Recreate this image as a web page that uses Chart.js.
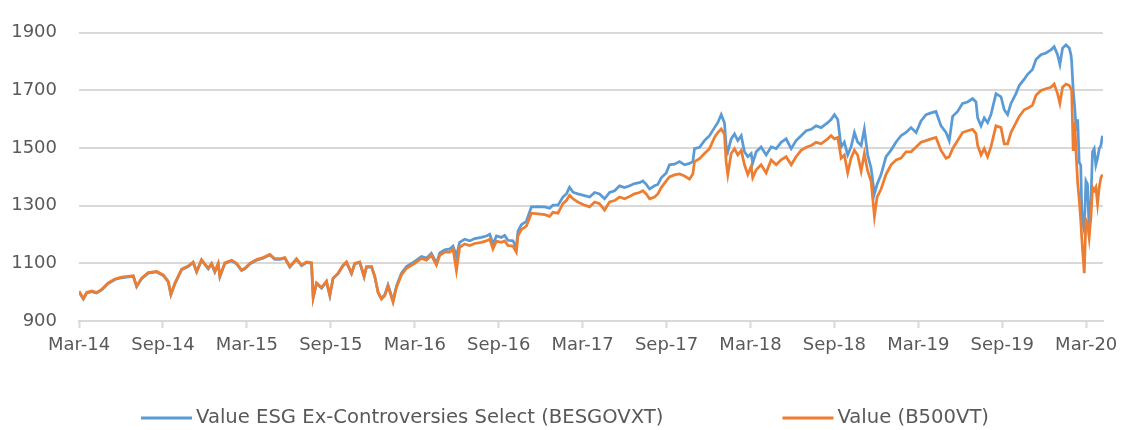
<!DOCTYPE html>
<html>
<head>
<meta charset="utf-8">
<script src="https://cdn.jsdelivr.net/npm/chart.js@4.4.1/dist/chart.umd.min.js"></script>
<style>
  body { margin: 0; background: #fff; }
  #wrap { width: 1126px; height: 430px; }
</style>
</head>
<body>
<div id="wrap"><canvas id="chart" width="1126" height="430"></canvas></div>
<script>
// x = months since Mar-14
const tickLabels = ['Mar-14', 'Sep-14', 'Mar-15', 'Sep-15', 'Mar-16', 'Sep-16', 'Mar-17',
                    'Sep-17', 'Mar-18', 'Sep-18', 'Mar-19', 'Sep-19', 'Mar-20'];

const months = [
  0.00, 0.31, 0.55, 0.91, 1.26, 1.62, 2.09, 2.57, 3.05, 3.52,
  3.88, 4.12, 4.48, 4.95, 5.55, 6.02, 6.38, 6.57, 6.86, 7.34,
  7.81, 8.16, 8.41, 8.76, 9.24, 9.48, 9.71, 9.95, 10.07, 10.43,
  10.91, 11.26, 11.62, 11.86, 12.21, 12.69, 13.16, 13.64, 14.00, 14.36,
  14.71, 15.07, 15.55, 15.91, 16.26, 16.62, 16.74, 16.98, 17.34, 17.69,
  17.93, 18.16, 18.52, 18.88, 19.12, 19.48, 19.71, 20.07, 20.38, 20.55,
  20.91, 21.14, 21.38, 21.62, 21.86, 22.09, 22.45, 22.69, 23.05, 23.41,
  24.00, 24.48, 24.84, 25.19, 25.55, 25.79, 26.14, 26.50, 26.74, 26.98,
  27.21, 27.57, 27.93, 28.29, 28.76, 29.12, 29.36, 29.59, 29.84, 30.19,
  30.43, 30.66, 31.02, 31.26, 31.38, 31.62, 31.98, 32.34, 32.81, 33.29,
  33.64, 33.88, 34.24, 34.59, 34.84, 35.07, 35.31, 35.66, 36.14, 36.50,
  36.86, 37.21, 37.57, 37.93, 38.29, 38.64, 39.00, 39.36, 39.71, 40.07,
  40.31, 40.55, 40.79, 41.14, 41.38, 41.62, 41.98, 42.21, 42.57, 42.93,
  43.29, 43.64, 43.88, 44.00, 44.36, 44.71, 45.07, 45.43, 45.66, 45.91,
  46.14, 46.26, 46.38, 46.62, 46.86, 47.09, 47.34, 47.57, 47.81, 48.05,
  48.16, 48.41, 48.76, 49.12, 49.48, 49.84, 50.19, 50.55, 50.91, 51.26,
  51.62, 51.98, 52.34, 52.69, 53.05, 53.52, 53.76, 54.00, 54.24, 54.48,
  54.71, 54.95, 55.19, 55.43, 55.66, 55.91, 56.14, 56.38, 56.62, 56.86,
  57.05, 57.34, 57.69, 58.05, 58.41, 58.76, 59.12, 59.48, 59.84, 60.19,
  60.55, 60.91, 61.26, 61.62, 61.98, 62.21, 62.45, 62.81, 63.16, 63.52,
  63.88, 64.12, 64.24, 64.48, 64.71, 64.95, 65.19, 65.55, 65.91, 66.14,
  66.38, 66.62, 66.98, 67.21, 67.57, 67.81, 68.16, 68.41, 68.76, 69.12,
  69.48, 69.71, 69.95, 70.12, 70.31, 70.55, 70.79, 70.91, 70.96, 71.07,
  71.18, 71.29, 71.39, 71.50, 71.61, 71.68, 71.75, 71.86, 71.98, 72.09,
  72.21, 72.34, 72.45, 72.57, 72.69, 72.81, 72.93, 73.05, 73.16
];

// Value ESG Ex-Controversies Select (BESGOVXT)
const esgValues = [
  1001, 976, 997, 1002, 997, 1008, 1030, 1044, 1050, 1053,
  1055, 1019, 1047, 1066, 1070, 1058, 1036, 991, 1030, 1078,
  1089, 1103, 1070, 1111, 1081, 1098, 1070, 1098, 1053, 1100,
  1109, 1098, 1075, 1081, 1098, 1111, 1118, 1129, 1114, 1114,
  1118, 1087, 1114, 1092, 1103, 1100, 980, 1030, 1014, 1036,
  988, 1047, 1064, 1092, 1103, 1064, 1098, 1103, 1053, 1087,
  1088, 1055, 1000, 978, 991, 1025, 970, 1021, 1066, 1089,
  1107, 1124, 1118, 1135, 1101, 1136, 1147, 1150, 1160, 1125,
  1173, 1184, 1178, 1186, 1190, 1195, 1201, 1167, 1195, 1190,
  1197, 1180, 1178, 1156, 1212, 1234, 1246, 1296, 1297, 1296,
  1291, 1302, 1302, 1330, 1341, 1364, 1347, 1341, 1335, 1330,
  1346, 1341, 1324, 1346, 1352, 1369, 1363, 1369, 1377, 1380,
  1386, 1374, 1358, 1369, 1374, 1397, 1414, 1442, 1444, 1453,
  1442, 1447, 1453, 1498, 1503, 1526, 1543, 1571, 1588, 1616,
  1588, 1509, 1487, 1532, 1549, 1526, 1543, 1487, 1470, 1481,
  1448, 1487, 1504, 1476, 1504, 1498, 1520, 1532, 1498, 1526,
  1543, 1560, 1565, 1577, 1571, 1588, 1599, 1616, 1599, 1504,
  1521, 1476, 1504, 1554, 1521, 1509, 1566, 1476, 1431, 1341,
  1374, 1409, 1470, 1493, 1521, 1543, 1554, 1571, 1554, 1594,
  1616, 1622, 1627, 1577, 1554, 1526, 1610, 1627, 1655, 1660,
  1672, 1660, 1605, 1577, 1605, 1588, 1616, 1689, 1678, 1633,
  1616, 1655, 1689, 1717, 1739, 1756, 1773, 1807, 1824, 1830,
  1841, 1852, 1824, 1790, 1847, 1858, 1847, 1824, 1800, 1700,
  1640, 1560, 1600, 1450, 1440, 1290, 1240, 1215, 1386, 1375,
  1217, 1319, 1487, 1498, 1442, 1465, 1498, 1509, 1543
];

// Value (B500VT)
const b500Values = [
  1003, 978, 999, 1004, 999, 1010, 1032, 1046, 1052, 1055,
  1057, 1021, 1049, 1068, 1072, 1060, 1038, 993, 1032, 1080,
  1091, 1105, 1072, 1113, 1083, 1100, 1072, 1100, 1055, 1102,
  1111, 1100, 1077, 1083, 1100, 1113, 1120, 1131, 1116, 1116,
  1120, 1089, 1116, 1094, 1105, 1102, 982, 1032, 1016, 1038,
  990, 1049, 1066, 1094, 1105, 1066, 1100, 1105, 1055, 1089,
  1089, 1055, 999, 976, 988, 1021, 965, 1016, 1060, 1083,
  1100, 1117, 1111, 1128, 1094, 1128, 1139, 1139, 1150, 1075,
  1156, 1167, 1162, 1169, 1173, 1178, 1184, 1150, 1177, 1173,
  1178, 1162, 1160, 1139, 1195, 1217, 1229, 1274, 1272, 1269,
  1263, 1277, 1274, 1307, 1318, 1336, 1324, 1313, 1302, 1296,
  1313, 1307, 1285, 1313, 1318, 1330, 1324, 1332, 1341, 1346,
  1352, 1341, 1324, 1330, 1341, 1363, 1386, 1400, 1407, 1410,
  1403, 1392, 1410, 1453, 1463, 1481, 1498, 1537, 1554, 1566,
  1548, 1453, 1408, 1481, 1498, 1476, 1492, 1442, 1408, 1437,
  1397, 1425, 1442, 1414, 1459, 1442, 1459, 1470, 1442, 1470,
  1492, 1503, 1509, 1520, 1515, 1532, 1543, 1532, 1537, 1465,
  1476, 1414, 1465, 1492, 1476, 1420, 1481, 1420, 1386, 1263,
  1330, 1358, 1409, 1442, 1459, 1465, 1487, 1487, 1504, 1520,
  1526, 1532, 1537, 1492, 1465, 1470, 1498, 1526, 1554, 1560,
  1565, 1550, 1509, 1476, 1498, 1470, 1504, 1577, 1571, 1515,
  1515, 1554, 1588, 1610, 1633, 1638, 1649, 1683, 1700, 1706,
  1711, 1722, 1689, 1655, 1711, 1722, 1717, 1706, 1700, 1490,
  1590, 1470, 1380, 1320, 1250, 1190, 1140, 1066, 1251, 1240,
  1190, 1263, 1364, 1353, 1364, 1307, 1364, 1397, 1408
];

const FONT = "'DejaVu Sans', sans-serif";
const TEXT = '#595959';
const GRID = '#d9d9d9';

// Excel-like legend: short line, label, wide gap before next item
const lineLegend = {
  id: 'lineLegend',
  afterDraw(chart) {
    const ctx = chart.ctx;
    const sets = chart.data.datasets;
    const keyW = 51, keyGap = 4, itemGap = 119, y = 418;
    ctx.save();
    ctx.font = '19.6px ' + FONT;
    const widths = sets.map(ds => ctx.measureText(ds.label).width);
    let total = 0;
    widths.forEach((w, i) => { total += keyW + keyGap + w + (i < widths.length - 1 ? itemGap : 0); });
    let x = (chart.width - total) / 2 + 2;
    ctx.textBaseline = 'middle';
    sets.forEach((ds, i) => {
      ctx.fillStyle = ds.borderColor;
      ctx.fillRect(x, y - 1.5, keyW, 3);
      x += keyW + keyGap;
      ctx.fillStyle = TEXT;
      ctx.fillText(ds.label, x, y);
      x += widths[i] + itemGap;
    });
    ctx.restore();
  }
};

const toPoints = vals => months.map((m, i) => ({x: m, y: vals[i]}));

new Chart(document.getElementById('chart'), {
  type: 'line',
  data: {
    datasets: [
      {
        label: 'Value ESG Ex-Controversies Select (BESGOVXT)',
        data: toPoints(esgValues),
        borderColor: '#5b9bd5',
        borderWidth: 2.75,
        order: 1,
      },
      {
        label: 'Value (B500VT)',
        data: toPoints(b500Values),
        borderColor: '#ed7d31',
        borderWidth: 2.75,
        order: 0,   // orange on top, as in the source
      },
    ],
  },
  options: {
    responsive: false,
    animation: false,
    events: [],
    layout: {padding: {left: 0, right: 23, top: 24, bottom: 60}},
    elements: {point: {radius: 0}, line: {tension: 0}},
    plugins: {legend: {display: false}, tooltip: {enabled: false}},
    scales: {
      x: {
        type: 'linear',
        min: 0,
        max: 73.2,
        afterBuildTicks: scale => {
          scale.ticks = tickLabels.map((_, i) => ({value: i * 6}));
        },
        afterFit: scale => { scale.height = 49; },
        ticks: {
          color: TEXT,
          font: {family: FONT, size: 18},
          padding: 7,
          maxRotation: 0,
          autoSkip: false,
          callback: v => tickLabels[Math.round(v / 6)],
        },
        grid: {drawOnChartArea: false, drawTicks: true, tickLength: 7, tickColor: GRID, tickWidth: 2},
        border: {display: true, color: GRID, width: 2},
      },
      y: {
        min: 900,
        max: 1900,
        afterFit: scale => { scale.width = 79; },
        ticks: {
          stepSize: 200,
          color: TEXT,
          font: {family: FONT, size: 18},
          padding: 22,
          callback: v => String(v),
        },
        grid: {color: GRID, lineWidth: 2, drawTicks: false},
        border: {display: false},
      },
    },
  },
  plugins: [lineLegend],
});
</script>
</body>
</html>
